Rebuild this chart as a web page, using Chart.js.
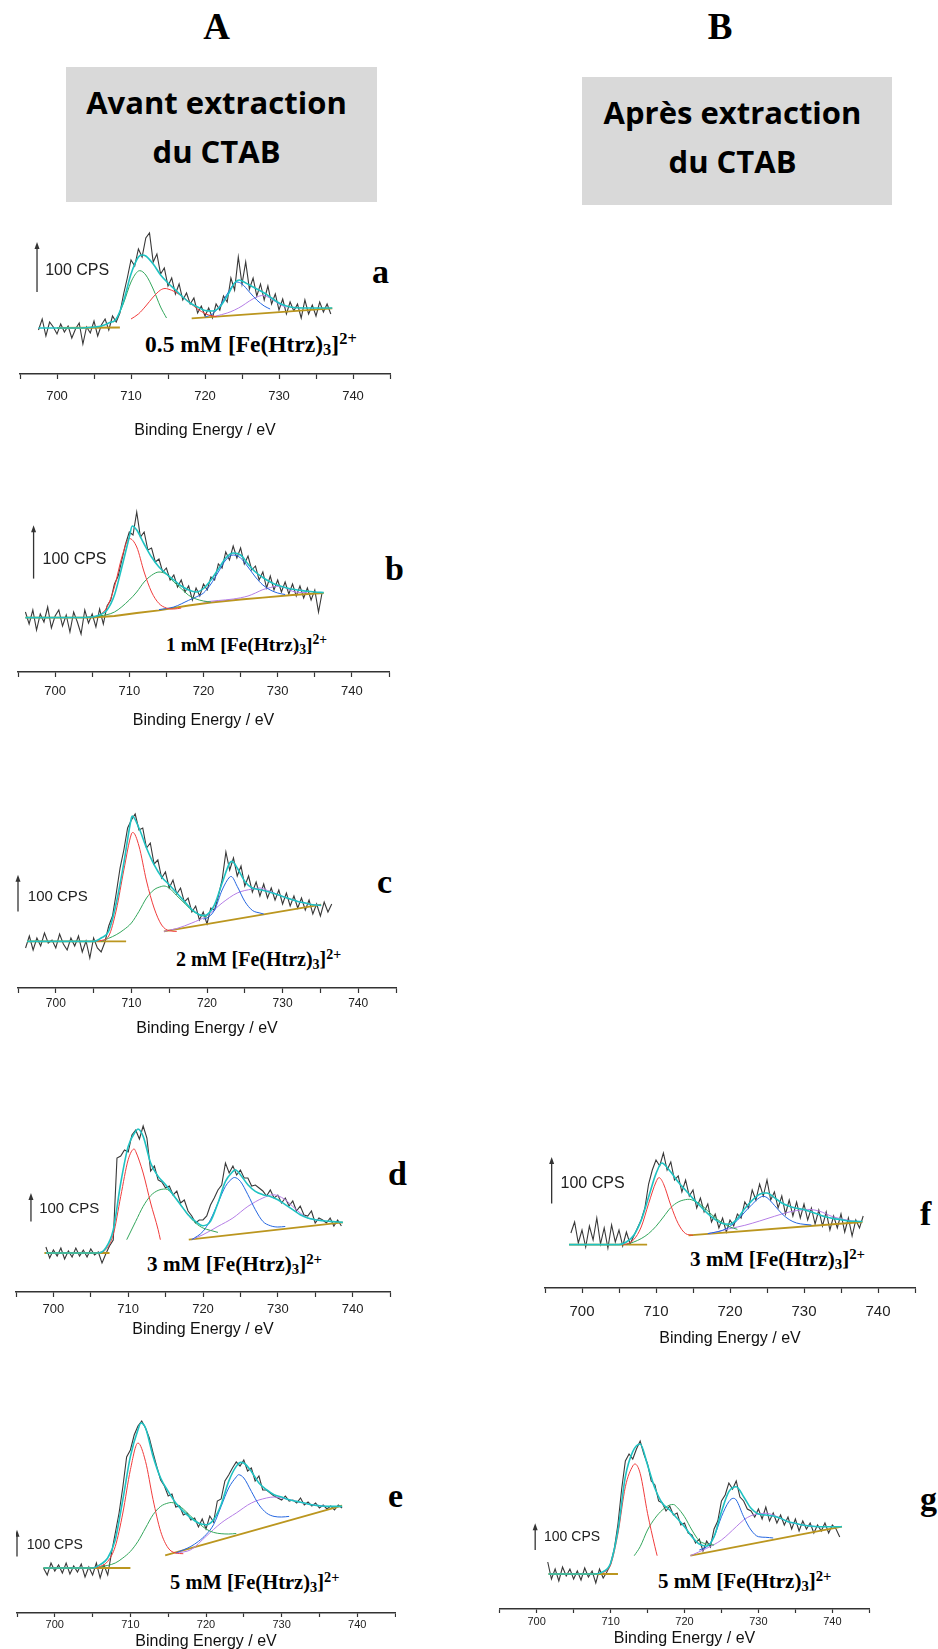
<!DOCTYPE html>
<html lang="fr">
<head>
<meta charset="utf-8">
<title>XPS Fe 2p</title>
<script src="https://cdn.jsdelivr.net/npm/chart.js@4.4.1/dist/chart.umd.min.js"></script>
<style>
  html, body { margin: 0; padding: 0; background: #fff; }
  body { position: relative; width: 938px; height: 1649px; overflow: hidden; }
  .abs { position: absolute; line-height: 1; white-space: nowrap; color: #000; }
  .serif { font-family: "Liberation Serif", "Times New Roman", serif; font-weight: bold; }
  .sans { font-family: "Open Sans", sans-serif; font-weight: bold; }
  .box { position: absolute; background: #d9d9d9; }
  .abs sub, .abs sup { font-size: 0.7em; line-height: 0; }
  .abs sub { vertical-align: -0.2em; }
  .abs sup { vertical-align: 0.5em; }
  canvas { position: absolute; }
</style>
</head>
<body>
<div class="box" style="left:66px;top:67px;width:311px;height:135px"></div>
<div class="box" style="left:582px;top:77px;width:310px;height:128px"></div>
<script>
// all intensities are read off the picture, in height above the axis line
// raw spectra: 0.5 eV steps from the given start energy

// ---- a : 0.5 mM, avant extraction
const rawStartA = 697.5;
const rawA = [
  44, 55, 38, 52, 47, 40, 50, 42, 48, 36,
  45, 51, 30, 47, 41, 53, 38, 49, 55, 44,
  58, 52, 61, 80, 96, 114, 108, 125, 117, 136,
  141, 112, 120, 100, 106, 88, 96, 80, 90, 74,
  81, 70, 76, 61, 68, 58, 66, 56, 70, 64,
  78, 72, 96, 84, 117, 90, 112, 85, 96, 78,
  90, 74, 88, 70, 80, 64, 75, 60, 72, 63,
  70, 56, 74, 60, 69, 58, 72, 62, 70, 60
];
const envA = [[697.5,46],[700,46],[703,46],[705,47],[706,48],[707,51],[708,55],[709,73],[710,100],[711,117],[711.5,119],[712,118],[713,110],[714,99],[715,91],[716,84],[717,77],[718,71],[719,67],[720,63.5],[721,63],[722,67],[723,78],[724,91],[724.6,94],[725,93],[726,89],[727,85],[728,81],[729,76],[730,71],[731,68],[732,66.5],[734,66],[737.2,66]];
const redA = [[710,55],[711,60],[712,68],[713,77],[714,84],[714.6,85.5],[715,85],[716,82],[717,77],[718,71],[719,65],[720,60.5],[721,58],[721.6,57.5]];
const greenA = [[707.6,52],[708,55],[709,71],[710,92],[711,103],[711.2,103.3],[712,99],[713,85],[714,67],[714.8,56]];
const blueA = [[720,57],[721,60],[722,68],[723,80],[724,91],[724.3,92],[725,90],[726,82],[727,74],[728,68],[728.8,65]];
const purpleA = [[721.5,58],[723,61],[724,64],[725,68],[726,73],[727,77],[727.8,78.5],[728.5,77],[729,75],[730,70],[731,66.5]];
const bgLeftA = [[700,46],[708.5,46.5]];
const bgRightA = [[718.2,55.7],[737.2,65.7]];

// ---- b : 1 mM
const rawStartB = 696;
const rawB = [
  60, 48, 62, 42, 58, 50, 65, 44, 56, 62,
  46, 57, 40, 60, 50, 38, 62, 49, 58, 45,
  63, 48, 66, 72, 88, 96, 112, 128, 140, 137,
  160, 135, 140, 122, 124, 110, 113, 100, 104, 92,
  97, 85, 92, 80, 86, 72, 84, 76, 88, 82,
  95, 92, 108, 104, 120, 112, 126, 114, 124, 108,
  116, 102, 106, 92, 100, 84, 96, 82, 92, 80,
  90, 78, 88, 76, 86, 74, 84, 72, 82, 60,
  80
];
const envB = [[696,54.4],[704,54.5],[705,55],[706,57],[707,62],[708,77],[709,105],[710,135],[710.4,146],[711,142],[712,128],[713,115],[714,105],[715,98],[716,92],[717,86],[718,82],[719,80],[720,83.5],[721,92],[722,103],[723,114],[724,119],[725,117],[726,108],[727,100],[728,94.5],[729,90],[730,86.7],[731,84.4],[732,82.7],[733,81.7],[734,80.7],[735,80],[736.2,79.4]];
const redB = [[704,54.5],[705,55],[706,57],[707,65],[708,85],[709,115],[710,133.5],[711,125],[712,100],[713,80],[714,68.5],[715,64],[716,63],[717,64]];
const greenB = [[704,54.5],[706,56],[708,60],[710,72],[711,80],[712,90],[713,96.7],[714,100],[715,97.7],[716,90],[717,83.4],[718,76.7],[719,73],[720,71],[721,70]];
const blueB = [[714,62.4],[716,65],[718,71.7],[719,75],[720,79],[721,88],[722,100],[723,112],[724,117],[725,114],[726,105],[727,95],[728,87],[729,82],[730,79],[731,77.5]];
const purpleB = [[720,70],[722,71.5],[724,73],[726,76],[727,79],[728,82.4],[729,84.4],[729.8,85.7],[731,84.4],[732,80.7],[733,79.5],[734,79.4]];
const bgLeftB = [];
const bgRightB = [[696,54.4],[705,54.5],[708,56],[711,59],[714,61.7],[718,66.5],[721,69.5],[725,72.5],[728,74.4],[732,77],[736.2,79]];

// ---- c : 2 mM
const rawStartC = 696;
const rawC = [
  40, 52, 38, 50, 42, 55, 45, 48, 40, 54,
  44, 38, 50, 42, 52, 36, 47, 30, 50, 40,
  36, 46, 62, 72, 95, 120, 138, 160, 168, 174,
  158, 160, 140, 145, 124, 128, 110, 116, 100, 108,
  94, 100, 86, 90, 76, 82, 68, 76, 64, 80,
  78, 92, 108, 136, 118, 130, 112, 122, 102, 112,
  96, 106, 92, 104, 90, 100, 88, 98, 84, 95,
  82, 92, 80, 90, 78, 88, 74, 84, 72, 86,
  76, 84
];
const envC = [[696.2,46.6],[705,46.6],[706,50],[707,57],[708,85],[709,125],[710,170],[710.1,172],[711,160],[712,140],[713,123.3],[714,111],[715,103.3],[716,95],[717,86.7],[718,78.3],[719,73.3],[719.5,72.5],[720,73.3],[721,83.3],[722,105],[723,125],[723.3,126.6],[724,120],[725,106.6],[726,100],[727,98.3],[728,96.6],[729,94.3],[730,91.6],[731,89],[732,86.6],[733,85],[734,83.3],[735.1,82.6]];
const redC = [[705,46.6],[706,47.5],[707,52],[708,78],[709,118],[710,154],[710.2,155.5],[711,142],[712,107],[713,80],[714,63],[715,57.3],[716,56.6]];
const greenC = [[706,46.6],[708,53.3],[709,58.3],[710,65],[711,76.6],[712,90],[713,98.3],[714,101.6],[714.3,102],[715,100],[716,92.3],[717,85],[718,77.6],[719,73.3],[720,71]];
const blueC = [[719.5,69],[720,70],[721,78],[722,98],[723,111],[723.2,111.5],[724,101.6],[725,86.6],[726,77.6],[727,75],[727.5,74]];
const purpleC = [[714.3,56.6],[716,59.5],[718,65],[720,72.3],[722,85],[724,95],[726,99],[727,100],[728,97.6],[730,91.6],[732,86.6],[734,83.3],[735.1,82.6]];
const bgLeftC = [[696.2,46.6],[709.3,46.6]];
const bgRightC = [[714.3,56.6],[735.1,83.3]];

// ---- d : 3 mM, avant
const rawStartD = 699;
const rawD = [
  45, 34, 42, 36, 44, 33, 41, 35, 44, 36,
  42, 35, 43, 37, 40, 29, 38, 46, 52, 134,
  136, 142, 140, 157, 162, 153, 166, 154, 121, 126,
  112, 110, 104, 106, 97, 101, 89, 92, 81, 76,
  69, 72, 72, 76, 87, 94, 102, 107, 129, 119,
  126, 117, 122, 114, 114, 106, 107, 104, 101, 96,
  102, 94, 97, 89, 94, 86, 91, 81, 86, 77,
  76, 81, 69, 74, 72, 69, 74, 66, 72, 66
];
const envD = [[699,39],[706,39],[707,44],[708,62],[709,109],[710,145.6],[711,160.6],[711.3,163],[712,155.6],[713,129],[714,115.6],[715,107.3],[716,97.3],[717,87.3],[718,77.3],[719,70.6],[720,66.3],[721,70.6],[722,89],[723,110.6],[724,120.6],[724.3,122.3],[725,117.3],[726,107.3],[727,100.6],[728,97.3],[729,95.6],[730,92.3],[731,87.3],[732,82.3],[733,77.3],[734,74],[735,72.3],[736,71.3],[737,70.6],[738.7,69.6]];
const redD = [[706,39],[707,42.3],[708,57.3],[709,95.6],[710,132.3],[710.8,143],[711,140.6],[712,119],[713,89],[714,62.3],[714.3,52.3]];
const greenD = [[709.8,52.3],[711,70.6],[712,85.6],[713,96.3],[714,101.6],[715,103],[716,97.3],[717,87.3],[718,77.3],[719,69],[720,64],[721,61.6],[722,59.6]];
const blueD = [[718.5,52.3],[720,60.6],[721,72.3],[722,89],[723,105.6],[724,114],[724.2,114.5],[725,110.6],[726,97.3],[727,82.3],[728,70.6],[729,66.3],[730,65],[731,65.5]];
const purpleD = [[718.5,52.5],[720,57.3],[722,65.6],[724,74],[726,85.6],[728,94],[729.4,97.3],[730,96.3],[731,92.3],[732,85.6],[733,79],[734,74],[735,72.3],[736,71.3]];
const bgLeftD = [[698.8,39],[707.5,39]];
const bgRightD = [[718.1,52.3],[738.7,69.6]];

// ---- e : 5 mM, avant
const rawStartE = 698.5;
const rawE = [
  45, 38, 50, 42, 48, 40, 50, 39, 47, 41,
  49, 36, 46, 38, 50, 35, 48, 38, 60, 80,
  100, 126, 156, 163, 178, 187, 192, 185, 175, 160,
  146, 133, 127, 117, 119, 106, 107, 98, 100, 93,
  95, 86, 94, 84, 97, 91, 112, 114, 132, 138,
  145, 151, 147, 153, 142, 145, 132, 137, 123, 123,
  120, 117, 115, 113, 117, 112, 113, 110, 115, 108,
  111, 107, 110, 105, 108, 104, 107, 103, 108, 105
];
const envE = [[698.5,45],[705,45],[706,48.3],[707,55],[708,73.3],[709,113.3],[710,156.6],[711,183.3],[711.4,190],[712,185],[713,156.6],[714,135],[715,121.6],[716,110],[717,101.6],[718,95],[719,90],[720,88.3],[721,93.3],[722,108.3],[723,131.6],[724,146.6],[724.6,150.6],[725,150],[726,141.6],[727,130],[728,123.3],[729,118.3],[730,116],[731,113.3],[732,111.6],[733,110],[734,108.3],[735,107.3],[736,106.6],[738,106.6]];
const redE = [[705,45],[706,46.6],[707,51.6],[708,66.6],[709,100],[710,143.3],[711,170],[712,151.6],[713,113.3],[714,81.6],[715,65],[716,60],[717,59.3]];
const greenE = [[706,46],[708,50],[709,55],[710,61.6],[711,71.6],[712,85],[713,98.3],[714,106.6],[715,110],[715.4,110.5],[716,109.3],[717,104],[718,96.6],[719,90],[720,84],[721,80.6],[722,79.3],[723,79],[724,79.5]];
const blueE = [[716,60],[718,66.6],[719,71.6],[720,78.3],[721,88.3],[722,106.6],[723,125],[724,136],[724.3,138.3],[725,135],[726,121.6],[727,108.3],[728,100],[729,96.6],[730,96],[731,96.6]];
const purpleE = [[716,60],[718,63.3],[720,76.6],[722,90],[724,100],[726,110],[728,115],[729,116],[730,115],[732,111.6],[734,108.3],[736,106.6]];
const bgLeftE = [[698.5,45],[710,45]];
const bgRightE = [[714.6,57.6],[738,107.3]];

// ---- f : 3 mM, apres
const rawStartF = 698.5;
const rawF = [
  55, 66, 45, 58, 41, 62, 48, 70, 44, 60,
  40, 63, 46, 58, 42, 56, 44, 52, 60, 68,
  80, 104, 118, 128, 122, 135, 118, 126, 108, 112,
  96, 108, 92, 98, 80, 90, 76, 84, 66, 74,
  60, 70, 56, 68, 62, 74, 70, 86, 80, 98,
  88, 104, 92, 108, 88, 96, 80, 92, 74, 88,
  72, 86, 70, 84, 68, 80, 64, 78, 62, 76,
  58, 72, 60, 74, 56, 70, 52, 68, 60, 72
];
const envF = [[698.25,43.4],[705,43.4],[706,46],[707,52.7],[708,67.7],[709,91],[710,114.4],[710.8,125],[711,124.4],[712,116],[713,106],[714,97.7],[715,89.4],[716,81.7],[717,74.4],[718,68.4],[719,64.4],[720,63.7],[721,69.4],[722,79.4],[723,87.7],[724,93.7],[724.8,95],[725,95],[726,90.4],[727,85],[728,81.7],[729,79.7],[730,78.4],[731,76],[732,73.4],[733,71],[734,69.4],[735,68.4],[736,67],[737,66.7],[737.9,66.5]];
const redF = [[705,43.4],[706,44],[707,48.4],[708,61],[709,84.4],[710,106],[710.4,110.4],[711,104.4],[712,82.7],[713,64.4],[714,54.4],[715,52.7]];
const greenF = [[706,43.6],[707,46],[708,49.4],[709,54.4],[710,61.7],[711,71],[712,80.4],[713,86],[714,88.4],[714.5,88.7],[715,87.7],[716,83.7],[717,77],[718,70.4],[719,65],[720,61],[721,58.7]];
const blueF = [[717,54.4],[719,57.7],[720,61.7],[721,67.7],[722,76],[723,83.7],[724,90.4],[724.5,91.7],[725,90.4],[726,82.7],[727,74.4],[728,68.4],[729,65],[730,63.7],[731,63]];
const purpleF = [[717,54],[720,59.4],[722,62.7],[724,67],[726,71.7],[728,76],[730,78.4],[730.5,78.6],[732,77],[734,71],[736,67.7],[737,66.5]];
const bgLeftF = [[698.25,43.4],[708.8,43.4]];
const bgRightF = [[714.4,52.7],[737.9,66]];

// ---- g : 5 mM, apres
const rawStartG = 701.5;
const rawG = [
  47, 30, 40, 28, 42, 33, 40, 30, 38, 29,
  41, 32, 38, 26, 40, 31, 37, 45, 60, 85,
  120, 148, 155, 150, 160, 168, 155, 145, 128, 124,
  108, 106, 98, 103, 94, 96, 84, 86, 76, 74,
  66, 70, 58, 68, 62, 80, 88, 108, 114, 126,
  120, 128, 112, 108, 100, 98, 92, 100, 90, 102,
  88, 96, 86, 94, 84, 92, 80, 90, 78, 88,
  80, 86, 76, 84, 78, 86, 76, 84, 80, 72
];
const envG = [[701.6,35],[708,35],[709,37.3],[710,45.7],[711,79],[712,132.3],[713,157.3],[714,165],[715,144],[716,120.7],[717,105.7],[718,99],[719,90.7],[720,82.3],[721,72.3],[722,65],[723,63],[724,72.3],[725,97.3],[726,117.3],[727,122.3],[728,112.3],[729,100.7],[730,95],[731,94],[732,93],[733,90.7],[734,87.3],[735,85.7],[736,84],[737,83],[738,82.3],[741.3,82.3]];
const redG = [[709,36],[710,44],[711,75.7],[712,122.3],[713,143],[713.3,145],[714,135.7],[715,95.7],[716,62.3],[716.3,53.3]];
const greenG = [[713.2,53.3],[714,62.3],[715,79],[716,90.7],[717,99],[718,104],[718.5,104.5],[719,101.7],[720,92.3],[721,79],[722,68.3],[723,65],[724,64]];
const blueG = [[722,59],[723,62.3],[724,72.3],[725,92.3],[726,107.3],[726.6,110.7],[727,109],[728,92.3],[729,79],[730,72.3],[731,71.7],[732,71]];
const purpleG = [[720.8,53.3],[723,60.7],[725,69],[727,82.3],[728,89],[729,93.3],[730,95],[731,95.7],[732,94],[733,90.7],[734,87.3],[736,84],[738,82.3]];
const bgLeftG = [[701.6,35],[711,35]];
const bgRightG = [[720.8,53.3],[741.3,82.3]];

const xTicks = [700, 710, 720, 730, 740];

const colors = {
  raw: '#383838', env: '#1fc2c2', red: '#f03c3c', green: '#33a65c',
  blue: '#2466e0', purple: '#b57ee6', bg: '#bb961f'
};

// layout of each panel on the page
const panels = [
  { raw: rawA, rawStart: rawStartA, env: envA, red: redA, green: greenA, blue: blueA, purple: purpleA, bgL: bgLeftA, bgR: bgRightA,
    left: 10, width: 390, axisY: 374, plotH: 150, tickSize: 13, tickLen: 5, tickPad: 10, titleOff: 56,
    cps: { x: 697.3, y0: 82, y1: 132, tx: 698.4, ty: 103.5, size: 16 } },
  { raw: rawB, rawStart: rawStartB, env: envB, red: redB, green: greenB, blue: blueB, purple: purpleB, bgL: bgLeftB, bgR: bgRightB,
    left: 11, width: 385, axisY: 671.7, plotH: 170, tickSize: 13, tickLen: 5, tickPad: 7, titleOff: 48,
    cps: { x: 697.1, y0: 93.4, y1: 146.7, tx: 698.3, ty: 112.7, size: 16 } },
  { raw: rawC, rawStart: rawStartC, env: envC, red: redC, green: greenC, blue: blueC, purple: purpleC, bgL: bgLeftC, bgR: bgRightC,
    left: 15, width: 384, axisY: 988.3, plotH: 185, tickSize: 12, tickLen: 5, tickPad: 3, titleOff: 40,
    cps: { x: 695, y0: 76.6, y1: 113.3, tx: 696.3, ty: 91, size: 15 } },
  { raw: rawD, rawStart: rawStartD, env: envD, red: redD, green: greenD, blue: blueD, purple: purpleD, bgL: bgLeftD, bgR: bgRightD,
    left: 11, width: 384, axisY: 1292.3, plotH: 175, tickSize: 13, tickLen: 5, tickPad: 5, titleOff: 37.7,
    cps: { x: 697, y0: 70.6, y1: 99, tx: 698.1, ty: 83, size: 15 } },
  { raw: rawE, rawStart: rawStartE, env: envE, red: redE, green: greenE, blue: blueE, purple: purpleE, bgL: bgLeftE, bgR: bgRightE,
    left: 16, width: 380, axisY: 1613.3, plotH: 200, tickSize: 11, tickLen: 4, tickPad: 1, titleOff: 28,
    cps: { x: 695, y0: 56.6, y1: 83.3, tx: 696.3, ty: 68, size: 14 } },
  { raw: rawF, rawStart: rawStartF, env: envF, red: redF, green: greenF, blue: blueF, purple: purpleF, bgL: bgLeftF, bgR: bgRightF,
    left: 535, width: 390, axisY: 1287.7, plotH: 145, tickSize: 15, tickLen: 5, tickPad: 10, titleOff: 50.6,
    cps: { x: 695.9, y0: 84.4, y1: 131, tx: 697.1, ty: 104.4, size: 16 } },
  { raw: rawG, rawStart: rawStartG, env: envG, red: redG, green: greenG, blue: blueG, purple: purpleG, bgL: bgLeftG, bgR: bgRightG,
    left: 497, width: 375, axisY: 1609, plotH: 180, tickSize: 11, tickLen: 4, tickPad: 2.7, titleOff: 29.3,
    cps: { x: 699.8, y0: 59, y1: 85.7, tx: 701, ty: 72.3, size: 14 } }
];

// text on the page: [html, font, size, x, baseline, align]
const labels = [
  ['A', 'serif', 37, 216.7, 39.3, 'center'],
  ['B', 'serif', 37, 720, 39, 'center'],
  ['Avant extraction', 'sans', 31, 216.5, 115, 'center'],
  ['du CTAB', 'sans', 31, 216.5, 164, 'center'],
  ['Après extraction', 'sans', 31, 732.5, 125, 'center'],
  ['du CTAB', 'sans', 31, 732.5, 173.3, 'center'],
  ['0.5 mM [Fe(Htrz)<sub>3</sub>]<sup>2+</sup>', 'serif', 23.5, 145, 352.7, 'left'],
  ['1 mM [Fe(Htrz)<sub>3</sub>]<sup>2+</sup>', 'serif', 19.5, 166, 651.7, 'left'],
  ['2 mM [Fe(Htrz)<sub>3</sub>]<sup>2+</sup>', 'serif', 20, 176, 965.7, 'left'],
  ['3 mM [Fe(Htrz)<sub>3</sub>]<sup>2+</sup>', 'serif', 21.2, 147, 1271.7, 'left'],
  ['5 mM [Fe(Htrz)<sub>3</sub>]<sup>2+</sup>', 'serif', 20.5, 170, 1589, 'left'],
  ['3 mM [Fe(Htrz)<sub>3</sub>]<sup>2+</sup>', 'serif', 21.2, 690, 1266.7, 'left'],
  ['5 mM [Fe(Htrz)<sub>3</sub>]<sup>2+</sup>', 'serif', 21, 658, 1589, 'left'],
  ['a', 'serif', 34, 372, 283, 'left'],
  ['b', 'serif', 34, 385, 580, 'left'],
  ['c', 'serif', 34, 377, 893, 'left'],
  ['d', 'serif', 34, 388, 1185, 'left'],
  ['e', 'serif', 34, 388, 1507, 'left'],
  ['f', 'serif', 34, 920, 1225, 'left'],
  ['g', 'serif', 34, 920, 1510, 'left']
];

const baselineRatio = { serif: 0.8375, sans: 0.888 };

labels.forEach(([html, font, size, x, base, align]) => {
  const el = document.createElement('div');
  el.className = 'abs ' + font;
  el.innerHTML = html;
  el.style.fontSize = size + 'px';
  el.style.top = (base - baselineRatio[font] * size) + 'px';
  if (align === 'center') {
    el.style.left = (x - 300) + 'px';
    el.style.width = '600px';
    el.style.textAlign = 'center';
  } else {
    el.style.left = x + 'px';
  }
  document.body.appendChild(el);
});

function pts(pairs) {
  return pairs.map(p => ({ x: p[0], y: p[1] }));
}

function rawPts(start, vals) {
  return vals.map((v, i) => ({ x: start + i * 0.5, y: v }));
}

function curve(data, color, width, smooth) {
  return {
    data: data,
    borderColor: color,
    borderWidth: width,
    pointRadius: 0,
    fill: false,
    tension: smooth ? 0.4 : 0,
    cubicInterpolationMode: smooth ? 'monotone' : 'default'
  };
}

// arrow + "100 CPS" scale marker
const cpsMarker = {
  id: 'cpsMarker',
  afterDatasetsDraw(chart, args, opts) {
    const ctx = chart.ctx;
    const xs = chart.scales.x, ys = chart.scales.y;
    const px = xs.getPixelForValue(opts.x);
    const p0 = ys.getPixelForValue(opts.y0);
    const p1 = ys.getPixelForValue(opts.y1);
    ctx.save();
    ctx.strokeStyle = '#333';
    ctx.fillStyle = '#333';
    ctx.lineWidth = 1.3;
    ctx.beginPath();
    ctx.moveTo(px, p0);
    ctx.lineTo(px, p1 + 5);
    ctx.stroke();
    ctx.beginPath();
    ctx.moveTo(px, p1);
    ctx.lineTo(px - 2.5, p1 + 7);
    ctx.lineTo(px + 2.5, p1 + 7);
    ctx.closePath();
    ctx.fill();
    ctx.fillStyle = '#222';
    ctx.font = opts.size + 'px "Liberation Sans", Arial, sans-serif';
    ctx.textBaseline = 'middle';
    ctx.textAlign = 'left';
    ctx.fillText('100 CPS', xs.getPixelForValue(opts.tx), ys.getPixelForValue(opts.ty));
    ctx.restore();
  }
};

const titleSize = 16;

panels.forEach(p => {
  const axisH = Math.round(p.titleOff + titleSize * 0.6);
  const canvas = document.createElement('canvas');
  canvas.width = p.width;
  canvas.height = p.plotH + axisH;
  canvas.style.left = p.left + 'px';
  canvas.style.top = (p.axisY - p.plotH) + 'px';
  document.body.appendChild(canvas);

  new Chart(canvas.getContext('2d'), {
    type: 'line',
    data: {
      datasets: [
        curve(pts(p.env), colors.env, 1.6, true),
        curve(pts(p.red), colors.red, 1, true),
        curve(pts(p.green), colors.green, 1, true),
        curve(pts(p.blue), colors.blue, 1, true),
        curve(pts(p.purple), colors.purple, 1, true),
        curve(pts(p.bgL), colors.bg, 1.8, false),
        curve(pts(p.bgR), colors.bg, 1.8, false),
        curve(rawPts(p.rawStart, p.raw), colors.raw, 1.1, false)
      ]
    },
    options: {
      responsive: false,
      animation: false,
      layout: { padding: 0 },
      plugins: {
        legend: { display: false },
        tooltip: { enabled: false },
        cpsMarker: p.cps
      },
      scales: {
        x: {
          type: 'linear',
          min: 695,
          max: 745,
          afterFit: scale => { scale.height = axisH; },
          ticks: {
            stepSize: 5,
            autoSkip: false,
            maxRotation: 0,
            padding: p.tickPad,
            color: '#222',
            font: { size: p.tickSize, family: '"Liberation Sans", Arial, sans-serif' },
            callback: v => xTicks.includes(v) ? String(v) : ''
          },
          grid: {
            display: true,
            drawOnChartArea: false,
            drawTicks: true,
            tickLength: p.tickLen,
            tickColor: '#333',
            tickWidth: 1.2
          },
          border: { display: true, color: '#333', width: 1.4 },
          title: {
            display: true,
            text: 'Binding Energy / eV',
            color: '#111',
            font: { size: titleSize, family: '"Liberation Sans", Arial, sans-serif' },
            padding: { top: 0, bottom: 0 }
          }
        },
        y: { display: false, min: 0, max: p.plotH }
      }
    },
    plugins: [cpsMarker]
  });
});
</script>
</body>
</html>
